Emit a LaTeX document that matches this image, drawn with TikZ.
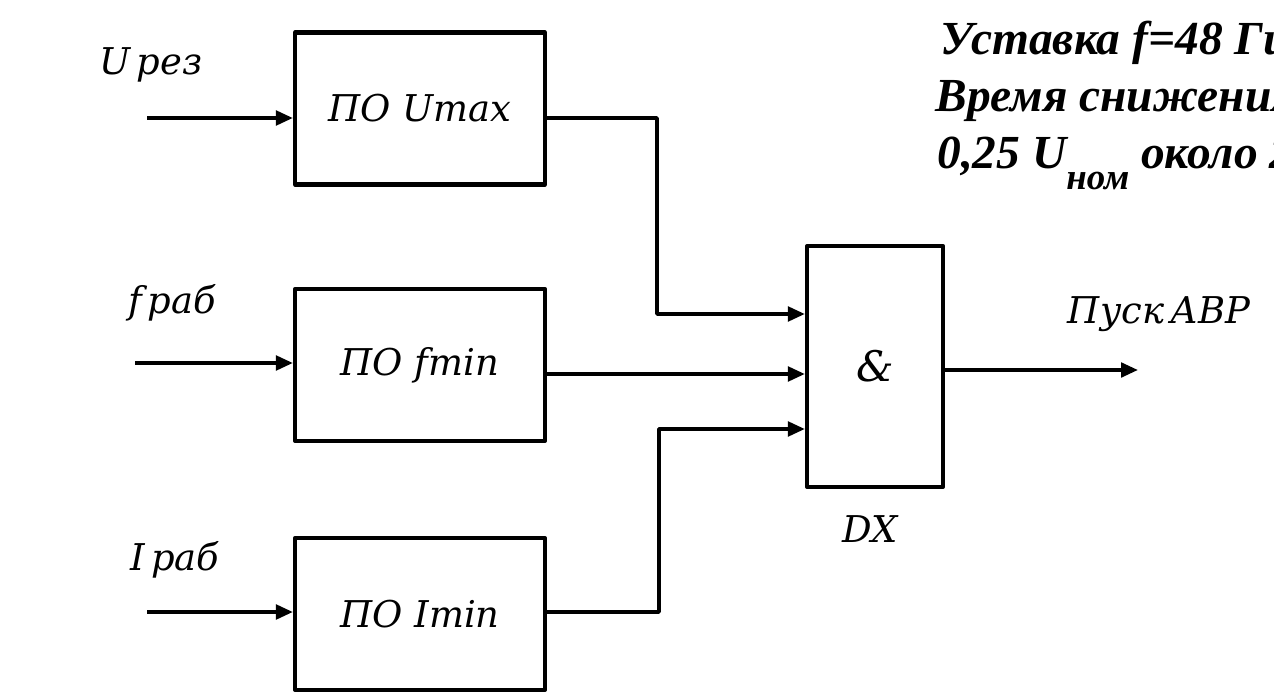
\documentclass[tikz,border=0pt]{standalone}
\usepackage{fontspec}
\setmainfont{DejaVu Serif}
\newfontfamily\notefont{Liberation Serif}
\usetikzlibrary{arrows.meta}

\tikzset{
  blok/.style={draw, line width=2.4pt, minimum width=5cm, minimum height=3.04cm, inner sep=0pt},
  svyaz/.style={line width=2.1pt, -{Triangle[length=3.4mm,width=2.9mm]}},
  metka/.style={inner sep=0pt, anchor=base},
  zametka/.style={inner sep=0pt, anchor=base west, font={\fontsize{27}{30}\notefont\bfseries\itshape}},
}

\begin{document}
\begin{tikzpicture}[x=0.02cm, y=-0.02cm, font={\fontsize{21}{25}\selectfont\itshape}, line join=round]
			\useasboundingbox (0,0) rectangle (1274,696);
			\clip (0,0) rectangle (1274,696);
			
			% Блоки пусковых органов и схема И
			\node[blok] (pou) at (420,108.5) {ПО Umax};
			\node[blok] (pof) at (420,365) {ПО fmin};
			\node[blok] (poi) at (420,614) {ПО Imin};
			\node[draw, line width=2.4pt, minimum width=2.72cm, minimum height=4.82cm, inner sep=0pt, font={\fontsize{24}{28}\selectfont\itshape}] (and) at (875,366.5) {\&};
			
			% Подписи
			\node[metka] (lu) at (151,75) {U\,рез};
			\node[metka] (lf) at (172,313) {f\,раб};
			\node[metka] (li) at (175,570) {I\,раб};
			\node[metka] (ldx) at (870,542) {DX};
			\node[metka] (lpusk) at (1159,323) {Пуск\,АВР};
			
			% Уставки
			\node[zametka] (note1) at (940,55) {Уставка f=48 Гц};
			\node[zametka] (note2) at (935,112) {Время снижения};
			\node[zametka] (note3) at (937,168) {0,25 U\raisebox{-12pt}{\fontsize{21}{21}\selectfont ном} около 2 с};
			
			% Точки входов и изломов
			\coordinate (in1) at (147,118);
			\coordinate (in2) at (135,363);
			\coordinate (in3) at (147,612);
			\coordinate (v1) at (657,314);
			\coordinate (v2) at (657,374);
			\coordinate (v3) at (659,429);
			\coordinate (vyh) at (1138,370);
			
			% Связи
			\draw[svyaz] (in1) -- (in1 -| pou.west);
			\draw[svyaz] (in2) -- (in2 -| pof.west);
			\draw[svyaz] (in3) -- (in3 -| poi.west);
			\draw[svyaz] (pou.east |- in1) -| (v1) -- (v1 -| and.west);
			\draw[svyaz] (pof.east |- v2) -- (v2 -| and.west);
			\draw[svyaz] (poi.east |- in3) -| (v3) -- (v3 -| and.west);
			\draw[svyaz] (and.east |- vyh) -- (vyh);
		\end{tikzpicture}
\end{document}
